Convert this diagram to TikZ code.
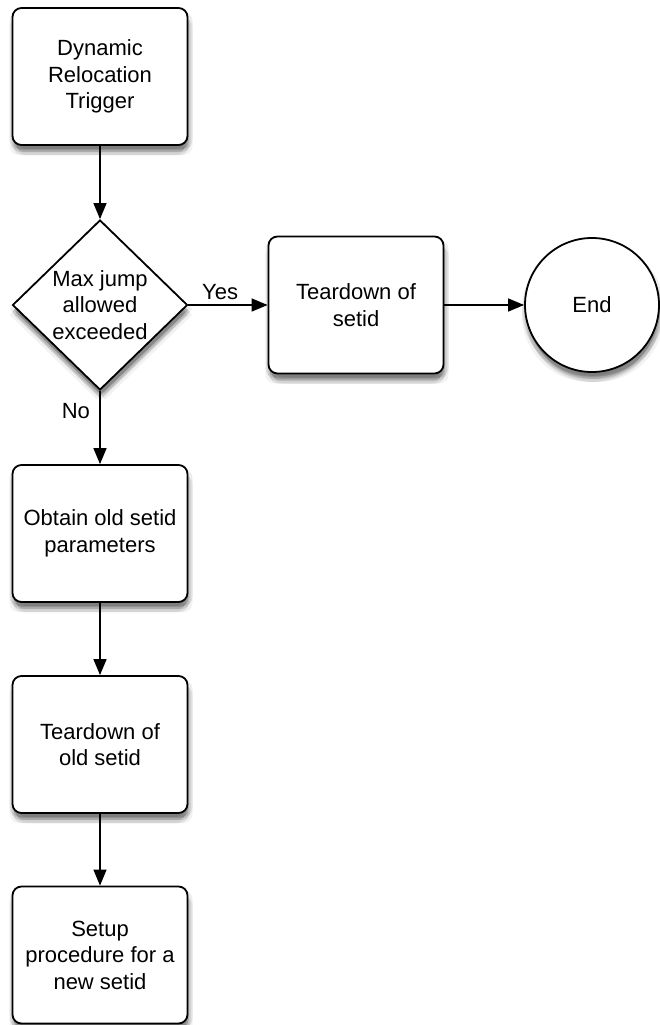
\documentclass[tikz,border=0pt]{standalone}
\usepackage{fontspec}
\setmainfont{Liberation Sans}
\usetikzlibrary{arrows.meta,shapes.geometric}

\tikzset{
  softshadow/.style={
    preaction={fill=black,opacity=0.14,draw=none,transform canvas={xshift=1pt,yshift=-5pt}},
    preaction={fill=black,opacity=0.10,draw=none,transform canvas={xshift=3pt,yshift=-7pt}},
    preaction={fill=black,opacity=0.10,draw=none,transform canvas={xshift=-1pt,yshift=-7pt}},
    preaction={fill=black,opacity=0.08,draw=none,transform canvas={xshift=1pt,yshift=-10pt}},
    preaction={fill=black,opacity=0.07,draw=none,transform canvas={xshift=5pt,yshift=-4pt}},
    preaction={fill=black,opacity=0.07,draw=none,transform canvas={xshift=-3pt,yshift=-4pt}},
    preaction={fill=black,opacity=0.05,draw=none,transform canvas={xshift=5pt,yshift=-10pt}},
    preaction={fill=black,opacity=0.05,draw=none,transform canvas={xshift=-3pt,yshift=-10pt}},
  },
  txt/.style={font=\fontsize{22}{26.5}\selectfont, align=center},
  stepbox/.style={txt, draw=black, line width=1.8pt, fill=white, rounded corners=9pt,
    minimum width=175pt, minimum height=137pt, inner sep=0pt, softshadow},
  decision/.style={txt, draw=black, line width=1.8pt, fill=white, diamond,
    minimum width=175pt, minimum height=170pt, inner sep=0pt, softshadow},
  terminal/.style={txt, draw=black, line width=1.8pt, fill=white, circle,
    minimum size=134pt, inner sep=0pt, softshadow},
  flow/.style={draw=black, line width=1.4pt, -{Triangle[length=16pt,width=13pt]}},
  lbl/.style={font=\fontsize{22}{26}\selectfont},
}

\begin{document}
\begin{tikzpicture}[x=1pt,y=-1pt]
  \useasboundingbox (0,0) rectangle (660,1025);

  \node[stepbox] (trigger) at (100,76.5) {Dynamic\\Relocation\\Trigger};
  \node[decision] (check) at (100,305) {Max jump\\allowed\\exceeded};
  \node[stepbox] (teardown) at (356,305) {Teardown of\\setid};
  \node[terminal] (end) at (592,305) {End};
  \node[stepbox] (obtain) at (100,533.5) {Obtain old setid\\parameters};
  \node[stepbox] (teardownold) at (100,744.5) {Teardown of\\old setid};
  \node[stepbox] (setup) at (100,955) {Setup\\procedure for a\\new setid};

  \draw[flow] (trigger) -- (check);
  \draw[flow] (check.east) -- (teardown) node[lbl, pos=0.4, above=1pt] {Yes};
  \draw[flow] (teardown) -- (end);
  \draw[flow] (check.south) -- (obtain) node[lbl, pos=0.28, left=6pt] {No};
  \draw[flow] (obtain) -- (teardownold);
  \draw[flow] (teardownold) -- (setup);
\end{tikzpicture}
\end{document}
